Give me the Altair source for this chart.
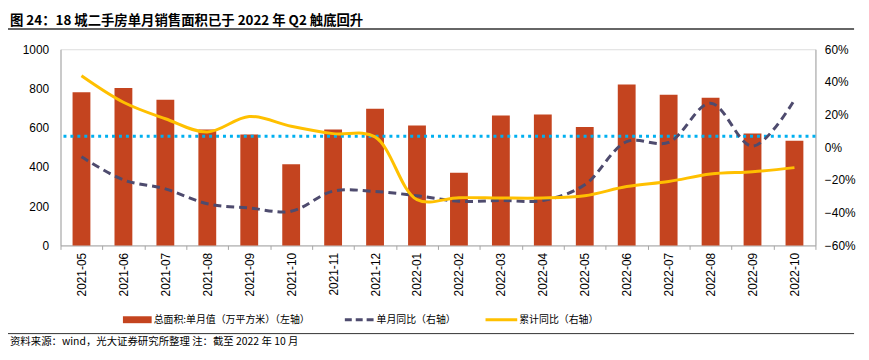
import altair as alt
import pandas as pd

months = ["2021-05", "2021-06", "2021-07", "2021-08", "2021-09", "2021-10",
          "2021-11", "2021-12", "2022-01", "2022-02", "2022-03", "2022-04",
          "2022-05", "2022-06", "2022-07", "2022-08", "2022-09", "2022-10"]
area = [781, 802, 743, 591, 566, 414, 591, 697, 611, 371, 662, 667,
        604, 820, 768, 753, 571, 533]
monthly_yoy = [-5.8, -19.9, -25.4, -34.5, -37.1, -39.1, -26.8, -27.0, -29.6, -33.0,
               -32.5, -32.5, -22.9, 3.5, 3.0, 27.0, 0.7, 29.0]
cum_yoy = [43.8, 27.6, 17.5, 9.4, 18.9, 12.9, 8.4, 6.4, -32.0, -30.8,
           -31.0, -31.0, -29.6, -24.0, -20.9, -16.3, -14.9, -12.4]
ref_level = [557]

left_ticks = [0, 200, 400, 600, 800, 1000]
right_ticks = [-0.6, -0.4, -0.2, 0, 0.2, 0.4, 0.6]

title_text = "图 24：18 城二手房单月销售面积已于 2022 年 Q2 触底回升"
source_text = "资料来源：wind，光大证券研究所整理 注：截至 2022 年 10 月"
legend_labels = ["总面积:单月值（万平方米）（左轴）", "单月同比（右轴）", "累计同比（右轴）"]
series_names = ["单月同比", "累计同比"]

BAR = "#C4441F"
DASH = "#4E4B6E"
GOLD = "#FFC000"
SKY = "#00B0F0"
AXC = "#A6A6A6"
NUMFONT = "Liberation Sans"
CJK = "Noto Sans CJK SC"

W, H = 762, 198

bar_df = pd.DataFrame({"month": months, "area": area})
line_df = pd.DataFrame({
    "month": months * 2,
    "yoy": [v / 100 for v in monthly_yoy] + [v / 100 for v in cum_yoy],
    "series": [series_names[0]] * len(months) + [series_names[1]] * len(months),
})
ref_df = pd.DataFrame({"area": ref_level})

xenc = alt.X("month:N", sort=months,
             scale=alt.Scale(paddingInner=0, paddingOuter=0),
             axis=alt.Axis(title=None, labelAngle=-90, labelFont=NUMFONT, labelFontSize=12,
                           labelColor="#000000", domainColor=AXC, tickColor=AXC,
                           tickSize=4, tickBand="extent", labelPadding=3, grid=False))

yleft = alt.Y("area:Q", scale=alt.Scale(domain=[0, 1000]),
              axis=alt.Axis(values=left_ticks, format="d", title=None, grid=False, ticks=False,
                            domainColor=AXC, labelFont=NUMFONT, labelFontSize=12,
                            labelColor="#000000", labelPadding=12))

yright = alt.Y("yoy:Q", scale=alt.Scale(domain=[-0.6, 0.6]),
               axis=alt.Axis(values=right_ticks, orient="right", format=".0%", title=None,
                             grid=False, ticks=False, domainColor=AXC, labelFont=NUMFONT,
                             labelFontSize=12, labelColor="#000000", labelPadding=9))

bars = alt.Chart(bar_df).mark_bar(size=18, color=BAR).encode(x=xenc, y=yleft)
ref = alt.Chart(ref_df).mark_rule(color=SKY, strokeWidth=3, strokeDash=[3, 4]).encode(y=yleft)

dashed = alt.Chart(line_df).transform_filter(alt.datum.series == series_names[0]).mark_line(
    color=DASH, strokeWidth=3, strokeDash=[8, 5], interpolate="catmull-rom"
).encode(x=xenc, y=yright)
gold = alt.Chart(line_df).transform_filter(alt.datum.series == series_names[1]).mark_line(
    color=GOLD, strokeWidth=3, interpolate="catmull-rom"
).encode(x=xenc, y=yright)


def txt(s, x, y, size, bold=False, font=CJK, baseline="middle"):
    return alt.Chart(pd.DataFrame({"t": [s]})).mark_text(
        align="left", baseline=baseline, font=font, fontSize=size,
        fontWeight="bold" if bold else "normal", color="#000000"
    ).encode(text="t:N", x=alt.value(x), y=alt.value(y))


def hline(x1, x2, y, color, width, dash=None):
    kw = dict(color=color, strokeWidth=width)
    if dash:
        kw["strokeDash"] = dash
    return alt.Chart(pd.DataFrame({"k": [0]})).mark_rule(**kw).encode(
        x=alt.value(x1), x2=alt.value(x2), y=alt.value(y))


annotations = [
    txt(title_text, -51, -24, 13.5, bold=True, baseline="alphabetic"),
    hline(-53, 801, -20.5, "#333333", 1.5),
    hline(63, 92, 273, BAR, 7),
    txt(legend_labels[0], 94, 273, 10),
    hline(287, 316, 273, DASH, 3, [7, 4]),
    txt(legend_labels[1], 319, 273, 10),
    hline(429, 461, 273, GOLD, 3),
    txt(legend_labels[2], 463, 273, 10),
    hline(-53, 801, 287, "#333333", 1),
    txt(source_text, -51, 296, 10.5),
]

chart = alt.layer(
    alt.layer(bars, ref),
    alt.layer(dashed, gold),
    *annotations
).resolve_scale(y="independent").properties(
    width=W, height=H,
    autosize=alt.AutoSizeParams(type="none"),
    padding={"left": 53, "top": 40, "right": 46, "bottom": 114},
).configure_view(stroke=None).configure(background="white")

chart.save("out.html", embed_options={"renderer": "svg", "actions": False})
